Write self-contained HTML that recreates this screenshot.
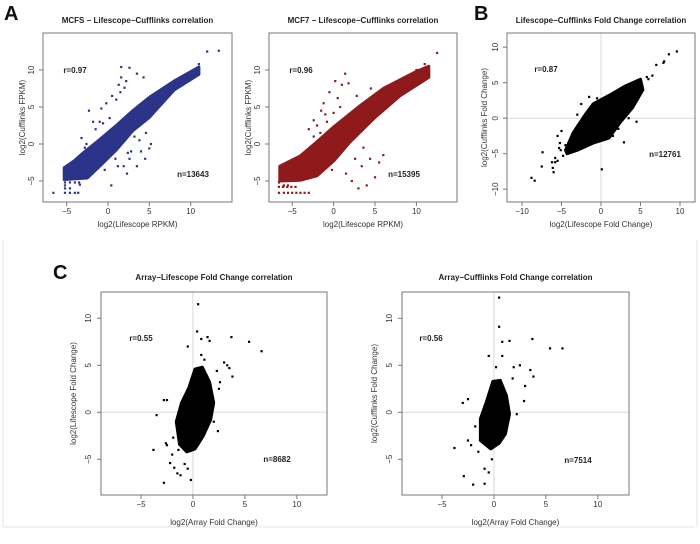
<!DOCTYPE html>
<html><head><meta charset="utf-8">
<style>
html,body{margin:0;padding:0;background:#fff;}
svg{display:block;font-family:"Liberation Sans",Arial,sans-serif;}
.tt{font-size:8px;font-weight:bold;fill:#222;}
.tk{font-size:8px;fill:#333;}
.al{font-size:8px;fill:#333;}
.st{font-size:8px;font-weight:bold;fill:#222;}
.pl{font-size:20px;font-weight:bold;fill:#111;}
</style></head>
<body>
<svg id="fig" width="700" height="544" viewBox="0 0 700 544" xmlns="http://www.w3.org/2000/svg">
<rect x="0" y="0" width="700" height="544" fill="#fff"/>
<line x1="3" y1="240" x2="3" y2="527" stroke="#e4e4e4"/>
<line x1="3" y1="527" x2="695" y2="527" stroke="#e4e4e4"/>
<line x1="697" y1="240" x2="697" y2="527" stroke="#e4e4e4"/>
<text class="pl" x="4" y="20">A</text>
<text class="pl" x="474" y="20">B</text>
<text class="pl" x="53" y="279">C</text>
</svg>
<script>
// ---------- data (values in log2 units) ----------
const a1Ticks = [-5, 0, 5, 10];
const a1CoreX = [-5.3, -4, -3, -1, 1, 3, 5, 8, 11, 11, 8, 5, 3, 1, -1, -2.5, -5.3];
const a1CoreY = [-3.2, -2.2, -1.2, 0.6, 2.5, 4.5, 6.3, 8.5, 10.4, 9.4, 7.3, 3.6, 1.8, -0.8, -3, -4.6, -4.8];
const a1OutX = [-6.6,-5.2,-5.2,-5.2,-4.6,-4.6,-4,-3.6,-3.4,-3,-2.6,-2.4,-2,-1.5,-1.2,-0.8,-0.4,0,0.2,0.6,1,1.3,1.6,2,2.3,2.6,3,3.5,4,4.5,5,5.2,1.6,2.6,3.5,4.3,-1,-0.2,0.5,1.5,2.2,3.2,12,13.4,11,10.2,-5.2,-4.6,-4,-3.5,0.4,-2.3,-1.8,-0.6,0.9,1.9,2.8,3.8,4.6,-3.2,-2.8,1.2,2.4,3.1,-4.4,-4.9];
const a1OutY = [-6.6,-6.6,-6,-5.6,-6.6,-6,-6.6,-6.6,-5.5,-2,0,-3,-1.5,2,-1,4.8,-3.5,1,3.5,-0.6,6,8,9,7.6,-4,-2,3,-3,-1,-2,-0.6,0,10.4,10.3,9.5,9,3,5.5,6.5,7,8.5,1,12.5,12.6,10.8,9.8,-5.2,-5.2,-5.2,-5.2,-5.6,4.5,3,2.8,-2,-3,-1,0.5,1.5,0.8,-0.5,-3,-1.2,2,-4,-4.2];

const a2Ticks = [-5, 0, 5, 10];
const a2CoreX = [-6.5, -4, -2, 0, 3, 6, 10, 11.5, 11.5, 8, 5, 2, 0, -2, -4, -6.5];
const a2CoreY = [-3, -1.6, 0.3, 2.3, 5, 7.5, 9.8, 10.5, 9, 6.5, 3.6, 0.3, -2.3, -4.3, -4.9, -5];
const a2OutX = [-6.6,-6.6,-6.6,-6,-6,-5.5,-5.5,-5,-4.5,-4,-3.5,-3,-2.8,-2.4,-2,-1.6,-1.2,-0.8,-0.5,-0.2,0.2,0.5,1,1.4,1.8,2.2,2.6,3,3.4,4,4.4,5,5.5,6,2.8,4.5,12.5,11,10,-2.4,-1.5,-1,0,1.5,-3.8,-3,-2,-1,0.8,2,3.6,-6.1,-5.6,-5.1,-4.6];
const a2OutY = [-6.6,-5.8,-5.2,-6.6,-5.6,-6.6,-5.6,-6.6,-6.6,-6.6,-6.6,-6.6,-0.6,1,-1.5,1.5,5.5,3,7,-3.5,8.5,6.2,8,9.5,8.2,-5,-2,-6,-3,-5.6,-2,-4.5,-2.5,-1.5,6.5,7.5,12.3,10.8,10,3.2,4.5,0.5,4.2,-4,-1.8,2,2.5,4,5,3,-0.5,-5.8,-5.8,-5.8,-5.8];

const bTicksX = [-10, -5, 0, 5, 10];
const bTicksY = [-10, -5, 0, 5, 10];
const bCoreX = [-4.5, -3.5, -2, -1, 1, 3, 5, 5.3, 4, 2.5, 1, -1, -3, -4.3];
const bCoreY = [-4.5, -2, 0.5, 2, 3.2, 4.5, 5.5, 4, 1.5, -0.5, -2.8, -3.5, -4.5, -5];
const bOutX = [-8.8,-8.4,-7.5,-7.4,-6.2,-6,-5.8,-5.8,-5.5,-5.2,-5.1,-5,-4.8,-4.5,-6.1,-5.5,0.1,2.9,6,6.5,7,7.9,8,8.6,9.6,4.5,5.8,3,2.2,-2.5,-3,-1.5,1.5,3.5,-5.3,-0.5];
const bOutY = [-8.4,-8.8,-6.8,-4.8,-6.2,-7.6,-5.6,-6.2,-2.5,-3.5,-4.5,-1.8,-5.3,-3.8,-7,-6,-7.2,-3.4,5.5,6,7.5,7.8,8,9,9.4,-0.5,5.8,3.5,-1.5,2,0.5,3,-2.5,0,-4.2,2.8];

const c1Ticks = [-5, 0, 5, 10];
const c1CoreX = [-1.3, -1.6, -1.1, -0.4, 0.2, 0.9, 1.6, 2, 1.7, 1, 0.2, -0.6];
const c1CoreY = [-3.4, -1, 1, 2.6, 4.6, 4.8, 3.2, 1, -0.8, -2.5, -3.9, -4.2];
const c1OutX = [0.5,-0.5,0.4,0.8,1.4,1.6,3.7,5.4,6.6,3,3.3,3.5,3.8,2.6,2.4,2,-3.5,-2.8,-2.5,-3.8,-2.8,-2.2,-1.8,-1.5,-1.2,-0.8,-0.5,-0.2,-2.6,-2,-2.5,0.8,2.5,-1.9,-1.4,2.3,1.1];
const c1OutY = [11.5,7,8.6,7.8,8,7.6,8,7.5,6.5,5.3,5,4.7,3.8,3.2,-2,-1,-0.3,1.3,1.3,-4,-7.5,-5.4,-5.9,-6.5,-6.7,-5.5,-6,-7.2,-3.3,-4.5,-3.5,6.1,2.5,-2.7,-4,4.4,5.6];

const c2Ticks = [-5, 0, 5, 10];
const c2CoreX = [-1.3, -1.3, -0.7, -0.1, 0.6, 1.2, 1.5, 1.1, 0.5, -0.3];
const c2CoreY = [-3, -0.7, 1.2, 3.3, 3.4, 1.8, -0.2, -2.3, -3.3, -3.9];
const c2OutX = [0.5,0.5,0.8,1.5,3.7,5.4,6.6,3.5,3.8,2.5,-0.5,0.8,1.9,-3,-2.5,-3.8,-2.9,-2,-0.9,-0.5,-0.9,-1.5,-2.5,-0.2,2.9,2.2,3,-1.8,-2.2,1.8,0.2];
const c2OutY = [12.2,9.1,7.5,7.6,7.8,6.8,6.8,4.5,3.8,5,6,6,4.8,1,1.4,-3.8,-6.8,-7.7,-6,-6.4,-7.6,-4.2,-3,-5,1.2,-0.2,2.8,-1.5,-3.5,3.6,4.8];

// ---------- drawing ----------
const NS = "http://www.w3.org/2000/svg";
const svg = document.getElementById('fig');
function mk(tag, attrs){const e=document.createElementNS(NS,tag);for(const k in attrs)e.setAttribute(k,attrs[k]);svg.appendChild(e);return e;}

function panel(p){
  const sx = v => p.x0 + (v - p.xmin) / (p.xmax - p.xmin) * (p.x1 - p.x0);
  const sy = v => p.y1 - (v - p.ymin) / (p.ymax - p.ymin) * (p.y1 - p.y0);
  const t = mk('text',{x:(p.x0+p.x1)/2,y:p.ty,'text-anchor':'middle',class:'tt'});
  t.textContent = p.title;
  
  
  if (p.grid){
    const gv = mk('line',{x1:sx(0),x2:sx(0),y1:p.y0,y2:p.y1,stroke:'#d8d8d8','stroke-width':1});
    
    
    const gh = mk('line',{x1:p.x0,x2:p.x1,y1:sy(0),y2:sy(0),stroke:'#d8d8d8','stroke-width':1});
    
    
  }
  let d='';
  for(let i=0;i<p.cx.length;i++) d += (i?'L':'M') + sx(p.cx[i]).toFixed(1) + ' ' + sy(p.cy[i]).toFixed(1);
  const core = mk('path',{d:d+'Z',fill:p.color,stroke:p.color,'stroke-width':3,'stroke-linejoin':'round'});
  
  
  for(let i=0;i<p.ox.length;i++){
    const c = mk('rect',{x:sx(p.ox[i])-1.1,y:sy(p.oy[i])-1.1,width:2.2,height:2.2,fill:p.color});
    
    
  }
  const box = mk('rect',{x:p.x0,y:p.y0,width:p.x1-p.x0,height:p.y1-p.y0,fill:'none',stroke:'#777','stroke-width':1});
  
  
  p.xt.forEach(v=>{
    const X=sx(v);
    const l=mk('line',{x1:X,x2:X,y1:p.y1,y2:p.y1+4,stroke:'#777'});
    
    
    const tx=mk('text',{x:X,y:p.y1+12,'text-anchor':'middle',class:'tk'});
    tx.textContent = v<0 ? '\u2212'+Math.abs(v) : String(v);
    
    
  });
  p.yt.forEach(v=>{
    const Y=sy(v), X=p.x0-p.tko;
    const l=mk('line',{x1:p.x0-4,x2:p.x0,y1:Y,y2:Y,stroke:'#777'});
    
    
    const tx=mk('text',{x:X,y:Y,'text-anchor':'middle','dominant-baseline':'middle',class:'tk',transform:'rotate(-90 '+X+' '+Y+')'});
    tx.textContent = v<0 ? '\u2212'+Math.abs(v) : String(v);
    
    
  });
  const xl=mk('text',{x:(p.x0+p.x1)/2,y:p.xly,'text-anchor':'middle',class:'al'});
  xl.textContent=p.xlab;
  
  
  const yx=p.x0-p.ylo, yy=(p.y0+p.y1)/2;
  const yl=mk('text',{x:yx,y:yy,'text-anchor':'middle','dominant-baseline':'middle',class:'al',transform:'rotate(-90 '+yx+' '+yy+')'});
  yl.textContent=p.ylab;
  
  
  const r=mk('text',{x:p.rx,y:p.ry,'text-anchor':'middle',class:'st'});
  r.textContent=p.r;
  
  
  const n=mk('text',{x:p.nx,y:p.ny,'text-anchor':'middle',class:'st'});
  n.textContent=p.n;
  
  
}

panel({id:'mcfs',title:'MCFS \u2212 Lifescope\u2212Cufflinks correlation',ty:23,x0:43,x1:232,y0:33,y1:202,xmin:-7.86,xmax:15,ymin:-7.84,ymax:15,
  xt:a1Ticks,yt:a1Ticks,cx:a1CoreX,cy:a1CoreY,ox:a1OutX,oy:a1OutY,color:'#2b3488',grid:false,tko:11,ylo:20,
  xlab:'log2(Lifescope RPKM)',xly:227,ylab:'log2(Cufflinks FPKM)',r:'r=0.97',rx:75,ry:73,n:'n=13643',nx:193,ny:177});
panel({id:'mcf7',title:'MCF7 \u2212 Lifescope\u2212Cufflinks correlation',ty:23,x0:269,x1:457,y0:33,y1:202,xmin:-7.8,xmax:14.9,ymin:-7.84,ymax:15,
  xt:a2Ticks,yt:a2Ticks,cx:a2CoreX,cy:a2CoreY,ox:a2OutX,oy:a2OutY,color:'#8e1a1c',grid:false,tko:11,ylo:20,
  xlab:'log2(Lifescope RPKM)',xly:227,ylab:'log2(Cufflinks FPKM)',r:'r=0.96',rx:301,ry:73,n:'n=15395',nx:404,ny:177});
panel({id:'fold',title:'Lifescope\u2212Cufflinks Fold Change correlation',ty:23,x0:507,x1:695,y0:33,y1:202,xmin:-11.9,xmax:11.9,ymin:-11.8,ymax:12,
  xt:bTicksX,yt:bTicksY,cx:bCoreX,cy:bCoreY,ox:bOutX,oy:bOutY,color:'#000',grid:true,tko:11,ylo:22,
  xlab:'log2(Lifescope Fold Change)',xly:227,ylab:'log2(Cufflinks Fold Change)',r:'r=0.87',rx:546,ry:72,n:'n=12761',nx:665,ny:157});
panel({id:'array-lifescope',title:'Array\u2212Lifescope Fold Change correlation',ty:280,x0:101,x1:327,y0:292,y1:495,xmin:-8.85,xmax:12.9,ymin:-8.8,ymax:12.8,
  xt:c1Ticks,yt:c1Ticks,cx:c1CoreX,cy:c1CoreY,ox:c1OutX,oy:c1OutY,color:'#000',grid:true,tko:12,ylo:27,
  xlab:'log2(Array Fold Change)',xly:525,ylab:'log2(Lifescope Fold Change)',r:'r=0.55',rx:141,ry:341,n:'n=8682',nx:277,ny:462});
panel({id:'array-cufflinks',title:'Array\u2212Cufflinks Fold Change correlation',ty:280,x0:402,x1:629,y0:292,y1:495,xmin:-8.85,xmax:13,ymin:-8.8,ymax:12.8,
  xt:c2Ticks,yt:c2Ticks,cx:c2CoreX,cy:c2CoreY,ox:c2OutX,oy:c2OutY,color:'#000',grid:true,tko:12,ylo:27,
  xlab:'log2(Array Fold Change)',xly:525,ylab:'log2(Cufflinks Fold Change)',r:'r=0.56',rx:431,ry:341,n:'n=7514',nx:578,ny:463});
</script>
</body></html>
